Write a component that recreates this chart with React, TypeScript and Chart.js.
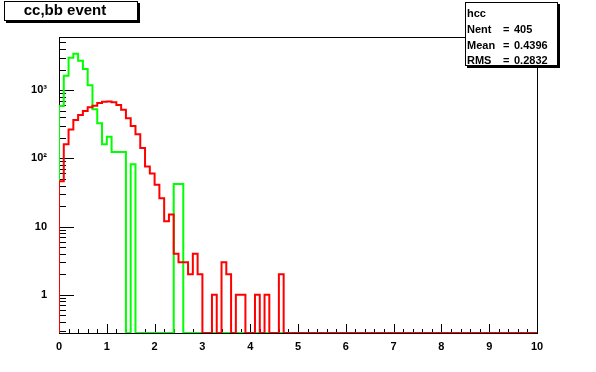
import React, { useEffect, useRef } from "react";
import { Chart, registerables } from "chart.js";

Chart.register(...registerables);

// ---- data ----
const X_MIN = 0;
const X_MAX = 10;
const Y_MIN = 0.276;
const Y_MAX = 6000;

// red histogram ("cc" / hcc) bin contents, 100 bins of width 0.1
const redCounts = [
  46, 161, 265, 366, 432, 493, 560, 590, 645, 673,
  680, 662, 603, 516, 387, 299, 225, 142, 76, 60,
  41, 26, 12, 15, 4, 3, 3, 2, 4, 2,
  0, 0, 1, 0, 3, 2, 0, 1, 1, 0,
  0, 1, 0, 1, 0, 0, 2, 0, 0, 0,
  0, 0, 0, 0, 0, 0, 0, 0, 0, 0,
  0, 0, 0, 0, 0, 0, 0, 0, 0, 0,
  0, 0, 0, 0, 0, 0, 0, 0, 0, 0,
  0, 0, 0, 0, 0, 0, 0, 0, 0, 0,
  0, 0, 0, 0, 0, 0, 0, 0, 0, 0,
];

// green histogram ("bb") bin contents
const greenCounts = [
  585, 1620, 2970, 3420, 2690, 2040, 1180, 526, 328, 161,
  207, 124, 124, 124, 0, 82, 0, 0, 0, 0,
  0, 0, 0, 0, 42, 42, 0, 0, 0, 0,
  0, 0, 0, 0, 0, 0, 0, 0, 0, 0,
  0, 0, 0, 0, 0, 0, 0, 0, 0, 0,
  0, 0, 0, 0, 0, 0, 0, 0, 0, 0,
  0, 0, 0, 0, 0, 0, 0, 0, 0, 0,
  0, 0, 0, 0, 0, 0, 0, 0, 0, 0,
  0, 0, 0, 0, 0, 0, 0, 0, 0, 0,
  0, 0, 0, 0, 0, 0, 0, 0, 0, 0,
];

const xTickValues = [0, 1, 2, 3, 4, 5, 6, 7, 8, 9, 10];
const yTickValues = [1, 10, 100, 1000];
const yTickLabels = ["1", "10", "10\u00B2", "10\u00B3"];

const titleText = "cc,bb event";
const statsTitle = "hcc";
const statsLabels = ["Nent", "Mean", "RMS"];
const statsValues = ["405", "0.4396", "0.2832"];

const FONT = "'Liberation Sans', Arial, sans-serif";

function histPoints(counts: number[]) {
  const n = counts.length;
  const w = (X_MAX - X_MIN) / n;
  const pts: { x: number; y: number }[] = [{ x: X_MIN, y: Y_MIN }];
  counts.forEach((c, i) => pts.push({ x: X_MIN + i * w, y: c > 0 ? c : Y_MIN }));
  const last = counts[n - 1];
  pts.push({ x: X_MAX, y: last > 0 ? last : Y_MIN });
  return pts;
}

const framePlugin = {
  id: "rootFrame",
  beforeDatasetsDraw(chart: any) {
    const { ctx, chartArea: a, scales } = chart;
    const xs = scales.x;
    const ys = scales.y;
    ctx.save();
    ctx.strokeStyle = "#000";
    ctx.lineWidth = 1;
    ctx.strokeRect(a.left + 0.5, a.top + 0.5, a.right - a.left, a.bottom - a.top);
    ctx.beginPath();
    for (let k = 0; k <= 50; k++) {
      const v = X_MIN + k * 0.2;
      const px = Math.round(xs.getPixelForValue(v)) + 0.5;
      const len = k % 5 === 0 ? 9 : 4;
      ctx.moveTo(px, a.bottom);
      ctx.lineTo(px, a.bottom - len);
    }
    for (let d = -1; d <= 3; d++) {
      for (let m = 1; m <= 9; m++) {
        const v = m * Math.pow(10, d);
        if (v < ys.min || v > ys.max) continue;
        const py = Math.round(ys.getPixelForValue(v)) + 0.5;
        const len = m === 1 ? 15 : 7;
        ctx.moveTo(a.left, py);
        ctx.lineTo(a.left + len, py);
      }
    }
    ctx.stroke();
    ctx.restore();
  },
  afterDraw(chart: any) {
    const { ctx } = chart;
    ctx.save();
    const box = (l: number, t: number, w: number, h: number) => {
      ctx.fillStyle = "#000";
      ctx.fillRect(l + 2, t + 2, w + 1, h + 1);
      ctx.fillStyle = "#fff";
      ctx.fillRect(l, t, w, h);
      ctx.strokeStyle = "#000";
      ctx.lineWidth = 1;
      ctx.strokeRect(l + 0.5, t + 0.5, w, h);
    };
    // title box
    box(4, 1, 133, 19);
    ctx.fillStyle = "#000";
    ctx.font = `bold 15px ${FONT}`;
    ctx.textAlign = "center";
    ctx.textBaseline = "middle";
    ctx.fillText(titleText, 65, 11);
    // stats box
    box(465, 2, 92, 63);
    ctx.fillStyle = "#000";
    ctx.font = `bold 11px ${FONT}`;
    ctx.textAlign = "left";
    ctx.fillText(statsTitle, 467, 14);
    statsLabels.forEach((lab, i) => {
      const yy = 30 + i * 15.5;
      ctx.fillText(lab, 467, yy);
      ctx.fillText("=", 503, yy);
      ctx.fillText(statsValues[i], 514, yy);
    });
    ctx.restore();
  },
};

export default function App() {
  const ref = useRef<HTMLCanvasElement | null>(null);
  useEffect(() => {
    if (!ref.current) return;
    const chart = new Chart(ref.current, {
      type: "line",
      data: {
        datasets: [
          {
            label: "hcc",
            data: histPoints(redCounts),
            borderColor: "#ff0000",
            borderWidth: 2,
            pointRadius: 0,
            stepped: true,
            fill: false,
          },
          {
            label: "hbb",
            data: histPoints(greenCounts),
            borderColor: "#00ff00",
            borderWidth: 2,
            pointRadius: 0,
            stepped: true,
            fill: false,
          },
        ],
      },
      options: {
        animation: false,
        responsive: false,
        devicePixelRatio: 1,
        parsing: false as any,
        layout: { padding: { left: 0, top: 37, right: 59, bottom: 0 } },
        plugins: { legend: { display: false }, tooltip: { enabled: false }, title: { display: false } },
        scales: {
          x: {
            type: "linear",
            min: X_MIN,
            max: X_MAX,
            grid: { display: false, drawTicks: false },
            border: { display: false },
            afterBuildTicks: (s: any) => {
              s.ticks = xTickValues.map((v) => ({ value: v }));
            },
            afterFit: (s: any) => {
              s.height = 39;
            },
            ticks: {
              autoSkip: false,
              maxRotation: 0,
              padding: 7,
              color: "#000",
              font: { family: FONT, size: 11, weight: "bold" },
              callback: (v: any) => String(v),
            },
          },
          y: {
            type: "logarithmic",
            min: Y_MIN,
            max: Y_MAX,
            grid: { display: false, drawTicks: false },
            border: { display: false },
            afterBuildTicks: (s: any) => {
              s.ticks = yTickValues.map((v) => ({ value: v }));
            },
            afterFit: (s: any) => {
              s.width = 59;
            },
            ticks: {
              autoSkip: false,
              padding: 12,
              color: "#000",
              font: { family: FONT, size: 11, weight: "bold" },
              callback: (_v: any, i: number) => yTickLabels[i],
            },
          },
        },
      },
      plugins: [framePlugin],
    });
    return () => chart.destroy();
  }, []);
  return (
    <div style={{ position: "absolute", left: 0, top: 0, width: 596, height: 372, background: "#fff" }}>
      <canvas ref={ref} width={596} height={372} />
    </div>
  );
}
